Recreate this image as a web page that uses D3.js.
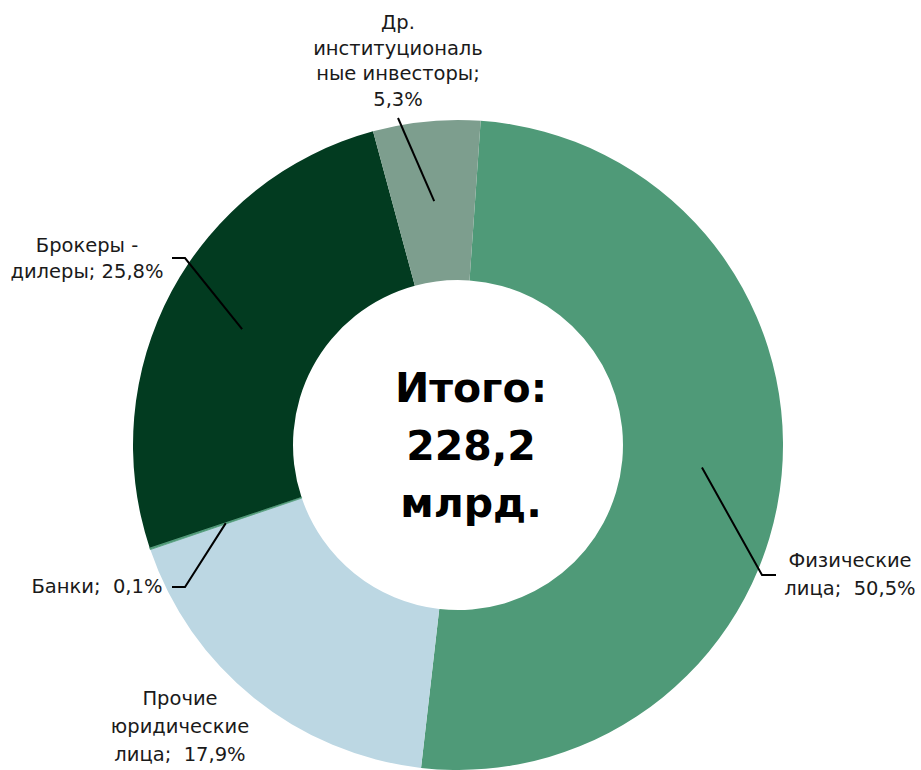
<!DOCTYPE html>
<html><head><meta charset="utf-8">
<script src="https://cdn.jsdelivr.net/npm/d3@7"></script>
<style>body{margin:0;background:#fff}svg{display:block}text{white-space:pre}</style>
</head><body>
<script>
const categories = ["Физические лица", "Прочие юридические лица", "Банки", "Брокеры - дилеры", "Др. институциональные инвесторы"];
const values = [50.5, 17.9, 0.1, 25.8, 5.3];
const colors = ["#4f9a78", "#bcd7e3", "#4f9a78", "#023b20", "#7d9e8e"];
const labelLines = [
  ["Физические", "лица;  50,5%"],
  ["Прочие", "юридические", "лица;  17,9%"],
  ["Банки;  0,1%"],
  ["Брокеры -", "дилеры; 25,8%"],
  ["Др.", "институциональ", "ные инвесторы;", "5,3%"]
];
const totalLines = ["Итого:", "228,2", "млрд."];

const W = 921, H = 770, cx = 458, cy = 445, R = 325, r0 = 165;
const svg = d3.select("body").append("svg").attr("width", W).attr("height", H);
const g = svg.append("g").attr("transform", `translate(${cx},${cy})`);
const deg = Math.PI / 180;
const pie = d3.pie().sort(null).value(d => d).startAngle(4 * deg).endAngle(364 * deg);
const arcs = pie(values);
const arc = d3.arc().innerRadius(r0).outerRadius(R);
const mid = d3.arc().innerRadius(245).outerRadius(245);

g.selectAll("path.slice").data(arcs).enter().append("path")
  .attr("class", "slice").attr("d", arc).attr("fill", (d, i) => colors[i])
  .attr("stroke", (d, i) => i === 2 ? "#4f9a78" : "none").attr("stroke-width", 0.8);

// label layout (position per label)
const layout = [
  {x: 850, y: 567, dy: 28, anchor: "middle", leader: [[762, 575], [776, 575]]},
  {x: 180, y: 705, dy: 28, anchor: "middle", leader: null},
  {x: 97, y: 593, dy: 26, anchor: "middle", leader: [[185, 587], [172, 587]]},
  {x: 87, y: 252, dy: 26, anchor: "middle", leader: [[185, 258], [172, 258]]},
  {x: 398, y: 29, dy: 25.7, anchor: "middle", leader: [[398, 118]]}
];
const font = "'DejaVu Sans', sans-serif";
arcs.forEach((a, i) => {
  const L = layout[i];
  if (L.leader) {
    const c = mid.centroid(a);
    const pts = [[c[0] + cx, c[1] + cy]].concat(L.leader);
    svg.append("path").attr("d", d3.line()(pts)).attr("fill", "none")
      .attr("stroke", "#000").attr("stroke-width", 2);
  }
  const t = svg.append("text").attr("text-anchor", L.anchor)
    .attr("font-family", font).attr("font-size", 19.5).attr("fill", "#1a1a1a");
  labelLines[i].forEach((s, j) => {
    t.append("tspan").attr("x", L.x).attr("y", L.y + j * L.dy).text(s);
  });
});

const tt = svg.append("text").attr("text-anchor", "middle")
  .attr("font-family", font).attr("font-weight", "bold").attr("font-size", 41).attr("fill", "#000");
totalLines.forEach((s, j) => {
  tt.append("tspan").attr("x", 471).attr("y", 402 + j * 57.5).text(s);
});
</script>
</body></html>
